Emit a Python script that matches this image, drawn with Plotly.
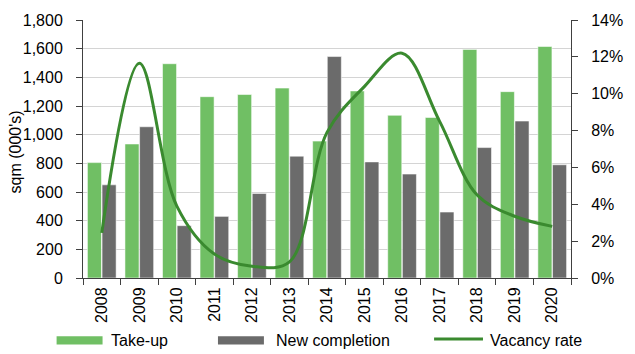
import plotly.graph_objects as go

# Annual office market figures
years = ["2008", "2009", "2010", "2011", "2012", "2013", "2014",
         "2015", "2016", "2017", "2018", "2019", "2020"]
take_up = [805, 935, 1495, 1265, 1280, 1325, 955, 1305, 1135, 1120, 1595, 1300, 1615]
new_completion = [650, 1055, 365, 430, 590, 850, 1545, 810, 725, 460, 910, 1095, 790]
vacancy_rate = [2.45, 11.65, 3.9, 1.3, 0.64, 0.87, 7.9, 10.4, 12.2, 8.5, 4.5, 3.35, 2.8]

left_ticks = list(range(0, 1801, 200))
right_ticks = list(range(0, 15, 2))
right_labels = [f"{v}%" for v in right_ticks]

GREEN = "#70BF64"
GREY = "#6B6B6B"
LINE = "#3A8A2F"
FONT = "Liberation Sans"

fig = go.Figure()
fig.add_trace(go.Bar(x=years, y=take_up, name="Take-up", marker_color=GREEN,
                     marker_line=dict(color="rgba(255,255,255,0.9)", width=0.6)))
fig.add_trace(go.Bar(x=years, y=new_completion, name="New completion", marker_color=GREY,
                     marker_line=dict(color="rgba(255,255,255,0.9)", width=0.6)))
fig.add_trace(go.Scatter(x=years, y=vacancy_rate, name="Vacancy rate", yaxis="y2",
                         mode="lines", line=dict(color=LINE, width=3, shape="spline", smoothing=1.0)))

axis_common = dict(showline=True, linecolor="#404040", linewidth=1,
                   ticks="outside", tickcolor="#404040", ticklen=6,
                   tickfont=dict(family=FONT, size=16, color="#000"))

fig.update_layout(
    width=635, height=354,
    margin=dict(l=83, r=53, t=14, b=76),
    paper_bgcolor="white", plot_bgcolor="white",
    barmode="group", bargap=0.22, bargroupgap=0.04,
    showlegend=False,
    font=dict(family=FONT, size=16, color="#000"),
    xaxis=dict(type="category", tickson="boundaries", tickangle=-90,
               ticklabelstandoff=2, **axis_common),
    yaxis=dict(range=[0, 1800], tickvals=left_ticks, tickformat=",",
               showgrid=True, gridcolor="#D4D4D4", gridwidth=1,
               ticklabelstandoff=10, **axis_common),
    yaxis2=dict(range=[0, 14], tickvals=right_ticks, ticktext=right_labels,
                overlaying="y", side="right", showgrid=False,
                ticklabelstandoff=10, **axis_common),
)

# Legend and axis title placed in pixel-derived paper coordinates
def px_x(px):
    return (px - 83) / 499.0

def px_y(py):
    return (278 - py) / 264.0

fig.add_annotation(text="sqm (000's)", xref="paper", yref="paper",
                   x=px_x(14), y=px_y(149), xanchor="center", yanchor="middle",
                   textangle=-90, showarrow=False,
                   font=dict(family=FONT, size=16, color="#000"))

legend_items = [
    ("rect", GREEN, 56, 103, "Take-up", 110),
    ("rect", GREY, 221, 268, "New completion", 278),
    ("line", LINE, 442, 492, "Vacancy rate", 497),
]
for kind, color, x0, x1, label, tx in legend_items:
    if kind == "rect":
        fig.add_shape(type="rect", xref="paper", yref="paper",
                      x0=px_x(x0), x1=px_x(x1), y0=px_y(346), y1=px_y(337.5),
                      fillcolor=color, line=dict(width=0))
    else:
        fig.add_shape(type="line", xref="paper", yref="paper",
                      x0=px_x(x0), x1=px_x(x1), y0=px_y(340.5), y1=px_y(340.5),
                      line=dict(color=color, width=3))
    fig.add_annotation(text=label, xref="paper", yref="paper",
                       x=px_x(tx), y=px_y(341.5), xanchor="left", yanchor="middle",
                       showarrow=False, font=dict(family=FONT, size=16, color="#000"))

fig.write_html("out.html")
